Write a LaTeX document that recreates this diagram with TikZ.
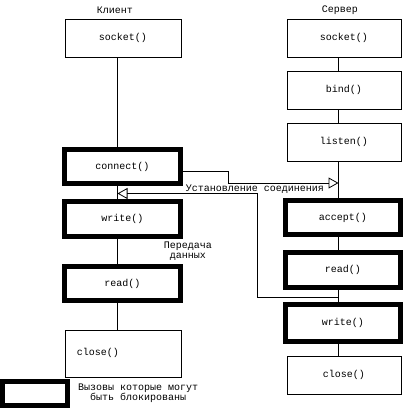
\documentclass[tikz,border=0pt]{standalone}
\usepackage{fontspec}
\setmonofont{Liberation Mono}
\usetikzlibrary{arrows.meta}
\begin{document}
\begin{tikzpicture}[x=1pt, y=-1pt,
      every node/.style={font=\ttfamily\fontsize{10}{10}\selectfont, inner sep=0pt},
      call/.style={draw, line width=0.8pt, minimum width=116pt, minimum height=38pt},
      blockcall/.style={draw, line width=5pt, minimum width=116pt, minimum height=34pt},
      link/.style={line width=0.8pt},
      msg/.style={line width=0.8pt, -{Triangle[open, length=10pt, width=11pt]}}
    ]
    \useasboundingbox (0,0) rectangle (405,410);

    % column lines
    \coordinate (cl) at (117.5,0);
    \coordinate (sl) at (338.5,0);

    % headers
    \node (client) at (115,10) {Клиент};
    \node (server) at (340,10) {Сервер};

    % client side
    \node[call] (csock) at (123,38) {socket()};
    \node[blockcall] (cconn) at (122.5,166.5) {connect()};
    \node[blockcall, minimum height=35pt] (cwrite) at (122.5,219) {write()};
    \node[blockcall] (cread) at (122.5,283.5) {read()};
    \node[call, minimum height=47pt] (cclose) at (123,353.5) {};
    \node (cclosetxt) at (98,353) {close()};

    \draw[link] (csock.south -| cl) -- (cconn.north -| cl);
    \draw[link] (cconn.south -| cl) -- (cwrite.north -| cl);
    \draw[link] (cwrite.south -| cl) -- (cread.north -| cl);
    \draw[link] (cread.south -| cl) -- (cclose.north -| cl);

    % server side
    \node[call, minimum width=114pt] (ssock) at (344,38) {socket()};
    \node[call, minimum width=114pt] (sbind) at (344,90) {bind()};
    \node[call, minimum width=114pt] (slisten) at (344,142) {listen()};
    \node[blockcall, minimum width=115pt] (saccept) at (343,217.5) {accept()};
    \node[blockcall, minimum width=115pt, minimum height=35pt] (sread) at (343,270) {read()};
    \node[blockcall, minimum width=115pt, minimum height=37pt] (swrite) at (343,323) {write()};
    \node[call, minimum width=114pt] (sclose) at (344,375) {close()};

    \draw[link] (ssock.south -| sl) -- (sbind.north -| sl);
    \draw[link] (sbind.south -| sl) -- (slisten.north -| sl);
    \draw[link] (slisten.south -| sl) -- (saccept.north -| sl);
    \draw[link] (saccept.south -| sl) -- (sread.north -| sl);
    \draw[link] (sread.south -| sl) -- (swrite.north -| sl);
    \draw[link] (swrite.south -| sl) -- (sclose.north -| sl);

    % connection setup
    \coordinate (synin) at (338.5,183);
    \draw[msg] ([yshift=-4.5pt]cconn.east) -- (228,171) |- (synin);
    \node (est) at (255,189) {Установление соединения};

    % data transfer
    \coordinate (dout) at (338.5,297);
    \coordinate (dinc) at (117.5,193.5);
    \draw[msg] (dout) -- (257,297) |- (dinc);
    \node[align=center] (data) at (188,251.5) {Передача\\данных};

    % legend
    \node[blockcall, minimum width=65pt, minimum height=24pt] (key) at (35,393.5) {};
    \node[align=center, anchor=west] (keytxt) at (78,393) {Вызовы которые могут\\быть блокированы};

\end{tikzpicture}
\end{document}
